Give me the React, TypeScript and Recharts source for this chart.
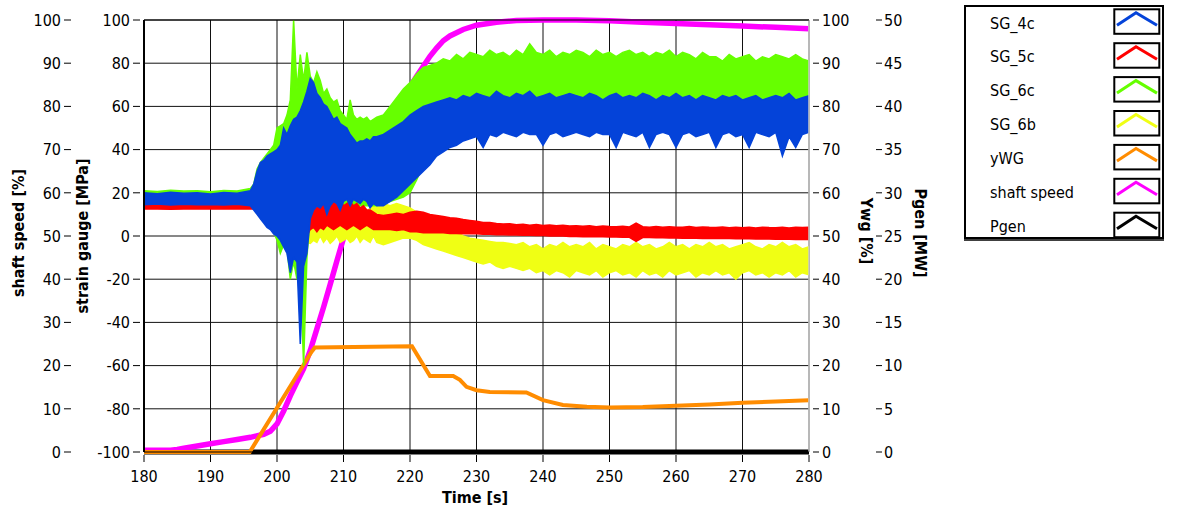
import React from 'react'
import { ComposedChart, Area, XAxis, YAxis, CartesianGrid, ReferenceLine } from 'recharts'

const FONT = '"DejaVu Sans Condensed", "DejaVu Sans", Verdana, sans-serif'

const BLUE = '#0443d9'
const RED = '#ff0000'
const GREEN = '#66ff00'
const YELLOW = '#f0ff14'
const ORANGE = '#ff8c00'
const MAGENTA = '#ff00ff'
const BLACK = '#000000'

// time base of the strain gauge records [s]
const time = [
  180, 182, 184, 186, 188, 190, 192, 194, 196,
  196.5, 197, 197.5, 198, 198.5, 199, 199.5, 200, 200.5, 201,
  201.5, 202, 202.5, 203, 203.5, 204, 204.5, 205, 205.5, 206,
  206.5, 207, 207.5, 208, 208.5, 209, 209.5, 210, 210.5, 211,
  211.5, 212, 212.5, 213, 213.5, 214, 214.5, 215,
  216, 217, 218, 219, 220, 221, 222, 223, 224, 225,
  226, 227, 228, 229, 230, 231, 232, 233, 234, 235,
  236, 237, 238, 239, 240, 241, 242, 243, 244, 245,
  246, 247, 248, 249, 250, 251, 252, 253, 254, 255,
  256, 257, 258, 259, 260, 261, 262, 263, 264, 265,
  266, 267, 268, 269, 270, 271, 272, 273, 274, 275,
  276, 277, 278, 279, 280,
]

// min / max envelopes of the strain signals [MPa]
const sg4cHigh = [
  20, 19.6, 20.2, 19.8, 20, 19.5, 20.1, 19.8, 21,
  24, 30, 34, 35, 37, 38, 39, 40, 42, 50,
  47, 51, 54, 55, 58, 62, 67, 73, 71, 66,
  64, 61, 60, 57, 54, 55, 52, 51, 50, 47,
  45, 43, 44, 44, 45, 44, 46, 46,
  47, 49, 51, 53, 56, 58, 60, 61, 62, 63,
  64, 63, 65, 64, 66, 65, 64, 67, 65, 64,
  66, 65, 67, 64, 65, 66, 64, 65, 66, 65,
  64, 66, 65, 63, 65, 66, 64, 65, 64, 66,
  65, 63, 65, 64, 66, 64, 65, 63, 65, 64,
  63, 65, 64, 65, 63, 64, 65, 63, 64, 65,
  64, 66, 63, 64, 65,
]
const sg4cLow = [
  14.5, 14.8, 14.4, 14.7, 14.5, 14.6, 14.4, 14.7, 14,
  12, 10, 8, 6, 4, 3, 1, 0, -2, -5,
  -8, -17, -10, -12, -50, -14, -8, 8, 12, 14,
  13, 15, 10, 14, 16, 15, 12, 16, 17, 14,
  17, 16, 15, 17, 16, 13, 15, 14,
  14, 16, 18, 21, 24, 27, 30, 33, 37, 39,
  41, 42, 44, 45, 46, 41, 47, 46, 48, 47,
  46, 48, 47, 47, 42, 47, 48, 46, 47, 48,
  47, 46, 48, 47, 47, 41, 48, 47, 46, 48,
  41, 47, 48, 47, 41, 47, 48, 46, 47, 48,
  41, 47, 48, 46, 47, 41, 48, 47, 46, 48,
  37, 46, 41, 47, 48,
]
const sg5cHigh = [
  15, 15, 15, 15, 15, 15, 15, 15, 15,
  15, 15, 15, 15, 15, 15, 15, 15, 15, 15,
  15, 15, 15, 15, 16, 15, 16, 17, 16, 15,
  17, 15, 16, 14, 16, 15, 17, 14, 15, 16,
  14, 15, 13, 14, 12, 12, 11, 10,
  9.5, 10, 10.5, 10, 11, 11.5, 11, 10, 9.5, 9,
  8.5, 8.2, 7.6, 7.2, 6.8, 6.2, 6.3, 5.8, 5.6, 5.7,
  5.2, 5.4, 5, 5.3, 4.9, 5.1, 4.8, 5, 4.6, 4.8,
  4.5, 4.7, 4.3, 4.6, 4.4, 4.3, 4.5, 4.2, 6, 4.3,
  4.1, 4.4, 4, 4.3, 4.1, 4, 4.4, 3.9, 4.2, 4,
  3.9, 4.2, 3.8, 4.1, 3.8, 4, 3.7, 4.1, 3.9, 3.8,
  4, 3.7, 4.1, 3.9, 4,
]
const sg5cLow = [
  12.5, 12.5, 12.4, 12.5, 12.5, 12.6, 12.5, 12.5, 12.5,
  12.5, 12.5, 12, 11, 10, 9, 8, 7, 6, 5,
  5, 4, 5, 3, 2, -10, 0, 3, 4, 2,
  4, 3, 5, 4, 3, 4, 5, 4, 3, 4,
  5, 4, 3, 4, 5, 4, 3, 3,
  3, 3, 2.5, 3, 2, 2, 1.5, 1.5, 1.5, 1.5,
  1.2, 1.2, 1, 1, 1, 0.8, 0.8, 0.6, 0.6, 0.5,
  0.5, 0.4, 0.3, 0.2, 0.2, 0, 0, 0, -0.2, -0.2,
  -0.3, -0.3, -0.4, -0.4, -0.5, -0.5, -0.6, -0.6, -2.5, -0.7,
  -0.7, -0.8, -0.8, -0.9, -0.9, -1, -1, -1, -1.1, -1.1,
  -1.2, -1.2, -1.2, -1.3, -1.3, -1.3, -1.4, -1.4, -1.4, -1.5,
  -1.5, -1.5, -1.6, -1.6, -1.6,
]
const sg6cHigh = [
  21, 20.6, 21.2, 20.8, 21, 20.5, 21.1, 20.8, 22,
  24, 31, 34, 36, 38, 40, 42, 50, 51, 52,
  56, 63, 100, 68, 84, 72, 85, 74, 71, 76,
  72, 66, 68, 64, 62, 63, 58, 56, 54, 63,
  56, 54, 55, 54, 55, 53, 54, 55,
  56, 60, 64, 68, 71, 75, 78, 79, 80, 82,
  81, 84, 82, 85, 84, 83, 86, 84, 85, 83,
  86, 84, 89, 85, 84, 86, 83, 85, 84, 86,
  85, 83, 86, 84, 85, 83, 85, 86, 84, 85,
  83, 85, 84, 86, 83, 85, 84, 82, 85, 83,
  83, 81, 84, 82, 83, 84, 81, 83, 82, 84,
  83, 82, 84, 82, 81,
]
const sg6cLow = [
  15, 15.2, 15, 15.3, 15, 15.1, 15, 15.2, 14.5,
  13, 11, 9, 7, 5, 4, 2, -2, -8, -4,
  -6, -20, -12, -20, -14, -60, -10, 10, 13, 14,
  14, 14, 14, 14, 14, 14, 14, 14, 14, 14,
  14, 14, 14, 14, 14, 14, 14, 14,
  15, 16, 17, 18, 20, 26, 33, 40, 46, 50,
  54, 56, 58, 59, 60, 60, 60, 60, 60, 60,
  60, 60, 60, 60, 60, 60, 60, 60, 60, 60,
  60, 60, 60, 60, 60, 60, 60, 60, 60, 60,
  60, 60, 60, 60, 60, 60, 60, 60, 60, 60,
  60, 60, 60, 60, 60, 60, 60, 60, 60, 60,
  60, 60, 60, 60, 60,
]
const sg6bHigh = [
  16, 16, 16, 16, 16, 16, 16, 16, 16,
  15, 14, 13, 12, 11, 10, 9, 8, 6, 5,
  6, 7, 8, 9, 10, 9, 10, 10, 9, 9,
  9, 8, 9, 10, 9, 8, 9, 10, 9, 10,
  10, 11, 10, 12, 11, 13, 14, 14,
  15, 14, 15, 14, 13, 11, 9, 8, 6, 5,
  3, 2, 0, -1, -1.5, -2, -2.5, -3, -3, -3.5,
  -4, -3, -5, -4, -6, -4, -5, -3, -5, -4,
  -5, -3, -6, -4, -5, -6, -4, -5, -3, -5,
  -4, -6, -5, -3, -5, -4, -6, -4, -5, -3,
  -5, -4, -6, -5, -4, -3, -5, -6, -4, -5,
  -3, -5, -4, -6, -5,
]
const sg6bLow = [
  13.5, 13.5, 13.5, 13.5, 13.5, 13.5, 13.5, 13.5, 13.5,
  13, 12, 11, 10, 9, 8, 7, 6, 4, 2,
  0, -2, -4, -3, -5, -4, -3, -3.4, -2, -3,
  0, -3, -1, -3.4, -2, 0, -3, -2, -1, -3,
  -2, 0, -3, -1, -2, -3, 0, -3,
  -4, -3, -2, -1, -1, -2, -4, -5, -6, -7,
  -8, -9, -10, -11, -12, -13, -12, -14, -15, -14,
  -15, -16, -15, -17, -16, -18, -16, -17, -19, -16,
  -17, -18, -16, -19, -17, -16, -18, -17, -19, -16,
  -18, -17, -19, -16, -18, -17, -16, -19, -17, -18,
  -16, -18, -17, -20, -17, -16, -18, -17, -19, -17,
  -18, -16, -19, -17, -18,
]

// shaft speed [%]
const speedTime = [
  180, 184, 185, 186, 188, 190, 192, 194, 196, 198, 199, 200, 201, 202, 203, 204, 205,
  206, 207, 208, 209, 210, 211, 212, 213, 214, 215, 216, 217, 218, 219, 220, 221, 222,
  223, 224, 225, 226, 228, 230, 233, 236, 240, 245, 250, 255, 260, 265, 270, 275, 280,
]
const shaftSpeed = [
  0.4, 0.4, 0.6, 0.9, 1.4, 1.9, 2.4, 2.9, 3.4, 4.1, 4.8, 6.5, 9.5, 13, 16.2, 19.3, 23.5,
  28.5, 33.5, 38.8, 44.2, 49.5, 54.5, 59, 63, 67, 70.5, 74, 77, 79.8, 82.2, 84.5, 87, 89.3,
  91.6, 93.5, 95.2, 96.3, 97.8, 98.8, 99.5, 99.9, 100, 100, 99.8, 99.5, 99.2, 98.9, 98.6, 98.3, 98,
]

// wicket gate opening yWG [%]
const ywgTime = [
  180, 195.9, 205.2, 205.7, 220.3, 223, 226.5, 227.5, 228.5, 230, 232, 237.5,
  240, 243, 246.6, 250, 255, 260, 265, 270, 275, 280,
]
const yWG = [
  0, 0, 23.2, 24.2, 24.5, 17.6, 17.6, 16.7, 15.1, 14.3, 13.9, 13.8,
  12, 10.9, 10.5, 10.3, 10.4, 10.7, 11, 11.4, 11.7, 12,
]

// generator power [MW]
const pgenTime = [180, 280]
const pgen = [0, 0]

const timeTicks = [180, 190, 200, 210, 220, 230, 240, 250, 260, 270, 280]
const speedTicks = [0, 10, 20, 30, 40, 50, 60, 70, 80, 90, 100]
const strainTicks = [-100, -80, -60, -40, -20, 0, 20, 40, 60, 80, 100]
const ywgTicks = [0, 10, 20, 30, 40, 50, 60, 70, 80, 90, 100]
const pgenTicks = [0, 5, 10, 15, 20, 25, 30, 35, 40, 45, 50]

const legendItems = [
  { name: 'SG_4c', color: BLUE },
  { name: 'SG_5c', color: RED },
  { name: 'SG_6c', color: GREEN },
  { name: 'SG_6b', color: YELLOW },
  { name: 'yWG', color: ORANGE },
  { name: 'shaft speed', color: MAGENTA },
  { name: 'Pgen', color: BLACK },
]

const band = (lo: number[], hi: number[]) => time.map((t, i) => ({ t, v: [lo[i], hi[i]] }))
const series = (ts: number[], vs: number[]) => ts.map((t, i) => ({ t, v: vs[i] }))

const sg4cData = band(sg4cLow, sg4cHigh)
const sg5cData = band(sg5cLow, sg5cHigh)
const sg6cData = band(sg6cLow, sg6cHigh)
const sg6bData = band(sg6bLow, sg6bHigh)
const speedData = series(speedTime, shaftSpeed)
const ywgData = series(ywgTime, yWG)
const pgenData = series(pgenTime, pgen)

const textProps = { fontFamily: FONT, fontSize: 16, fill: '#000' }

const leftTick = (lineEnd: number, textEnd: number) => (p: any) => (
  <g>
    <line x1={lineEnd - 7} x2={lineEnd} y1={p.y} y2={p.y} stroke="#000" />
    <text {...textProps} x={textEnd} y={p.y} dy="0.36em" textAnchor="end">
      {p.payload.value}
    </text>
  </g>
)

const rightTick = (lineStart: number, textStart: number) => (p: any) => (
  <g>
    <line x1={lineStart} x2={lineStart + 6} y1={p.y} y2={p.y} stroke="#000" />
    <text {...textProps} x={textStart} y={p.y} dy="0.36em" textAnchor="start">
      {p.payload.value}
    </text>
  </g>
)

const timeTick = (p: any) => (
  <g>
    <line x1={p.x} x2={p.x} y1={455} y2={462} stroke="#000" />
    <text {...textProps} x={p.x} y={476} dy="0.36em" textAnchor="middle">
      {p.payload.value}
    </text>
  </g>
)

const axisTitle = (text: string, x: number, y: number, angle: number) => ({
  content: () => (
    <text
      {...textProps}
      fontWeight="bold"
      x={x}
      y={y}
      dy="0.36em"
      textAnchor="middle"
      transform={angle ? `rotate(${angle} ${x} ${y})` : undefined}
    >
      {text}
    </text>
  ),
})

function ChartLegend() {
  return (
    <svg width={220} height={250} style={{ position: 'absolute', left: 960, top: 0 }}>
      <rect x={5} y={6} width={198} height={232} fill="#fff" stroke="#000" strokeWidth={2} />
      <line x1={4} x2={204} y1={240} y2={240} stroke="#000" strokeWidth={1.5} />
      {legendItems.map((item, i) => {
        const top = 9.3 + i * 33.9
        return (
          <g key={item.name}>
            <text {...textProps} x={30} y={top + 13.5} dy="0.36em">
              {item.name}
            </text>
            <rect x={154.3} y={top} width={45} height={24.5} fill="#fff" stroke="#000" strokeWidth={2} />
            <polyline
              points={`157,${top + 16} 176,${top + 3.5} 197,${top + 16}`}
              fill="none"
              stroke={item.color}
              strokeWidth={3}
            />
          </g>
        )
      })}
    </svg>
  )
}

export default function App() {
  return (
    <div style={{ position: 'absolute', left: 0, top: 0, width: 1180, height: 514, background: '#fff' }}>
      <ComposedChart width={951} height={514} margin={{ top: 20, right: 0, bottom: 0, left: 0 }}>
        <CartesianGrid yAxisId="strain" stroke="#111" strokeWidth={1} />
        <XAxis
          dataKey="t"
          type="number"
          domain={[180, 280]}
          ticks={timeTicks}
          interval={0}
          allowDataOverflow
          height={62}
          axisLine={false}
          tickLine={false}
          tick={timeTick}
          label={axisTitle('Time [s]', 475, 497, 0)}
        />
        <YAxis
          yAxisId="strain"
          orientation="left"
          width={73}
          domain={[-100, 100]}
          ticks={strainTicks}
          interval={0}
          axisLine={false}
          tickLine={false}
          tick={leftTick(140, 130)}
          label={axisTitle('strain gauge  [MPa]', 82, 236, -90)}
        />
        <YAxis
          yAxisId="speed"
          orientation="left"
          width={71}
          domain={[0, 100]}
          ticks={speedTicks}
          interval={0}
          axisLine={false}
          tickLine={false}
          tick={leftTick(71, 61)}
          label={axisTitle('shaft speed [%]', 18.5, 233, -90)}
        />
        <YAxis
          yAxisId="ywg"
          orientation="right"
          width={62}
          domain={[0, 100]}
          ticks={ywgTicks}
          interval={0}
          axisLine={false}
          tickLine={false}
          tick={rightTick(813, 822)}
          label={axisTitle('Ywg [%]', 867, 231, 90)}
        />
        <YAxis
          yAxisId="pgen"
          orientation="right"
          width={80}
          domain={[0, 50]}
          ticks={pgenTicks}
          interval={0}
          axisLine={false}
          tickLine={false}
          tick={rightTick(876, 884)}
          label={axisTitle('Pgen [MW]', 921, 233, 90)}
        />

        <Area yAxisId="pgen" data={pgenData} dataKey="v" type="linear" stroke={BLACK} strokeWidth={5}
          fill="none" dot={false} activeDot={false} isAnimationActive={false} />
        <Area yAxisId="speed" data={speedData} dataKey="v" type="linear" stroke={MAGENTA} strokeWidth={5.5}
          fill="none" dot={false} activeDot={false} isAnimationActive={false} />
        <Area yAxisId="ywg" data={ywgData} dataKey="v" type="linear" stroke={ORANGE} strokeWidth={4}
          fill="none" dot={false} activeDot={false} isAnimationActive={false} />
        <Area yAxisId="strain" data={sg6bData} dataKey="v" type="linear" stroke={YELLOW} strokeWidth={1.5}
          fill={YELLOW} fillOpacity={1} dot={false} activeDot={false} isAnimationActive={false} />
        <Area yAxisId="strain" data={sg6cData} dataKey="v" type="linear" stroke={GREEN} strokeWidth={1.5}
          fill={GREEN} fillOpacity={1} dot={false} activeDot={false} isAnimationActive={false} />
        <Area yAxisId="strain" data={sg5cData} dataKey="v" type="linear" stroke={RED} strokeWidth={1.5}
          fill={RED} fillOpacity={1} dot={false} activeDot={false} isAnimationActive={false} />
        <Area yAxisId="strain" data={sg4cData} dataKey="v" type="linear" stroke={BLUE} strokeWidth={1.5}
          fill={BLUE} fillOpacity={1} dot={false} activeDot={false} isAnimationActive={false} />

        <ReferenceLine yAxisId="strain" x={180} stroke="#000" strokeWidth={2} />
        <ReferenceLine yAxisId="strain" x={280} stroke="#c8c8c8" strokeWidth={1.5} />
        <ReferenceLine yAxisId="strain" y={100} stroke="#000" strokeWidth={1} />
        <ReferenceLine yAxisId="strain" y={-100} stroke="#000" strokeWidth={1} />
      </ComposedChart>
      <ChartLegend />
    </div>
  )
}
